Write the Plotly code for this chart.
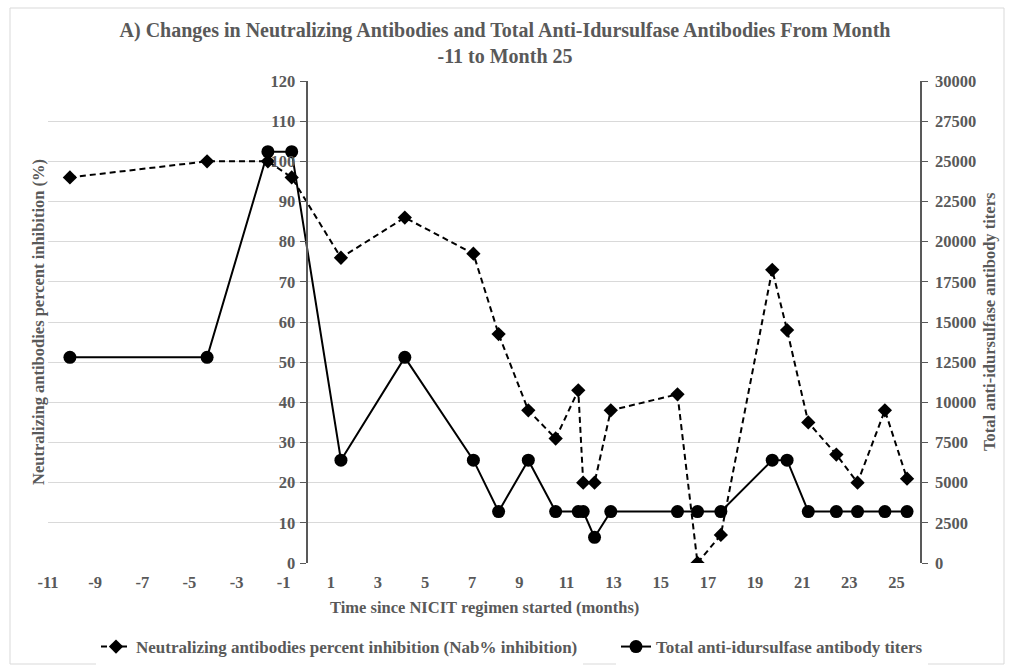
import plotly.graph_objects as go

months = [-10.07, -4.25, -1.67, -0.66, 1.43, 4.14, 7.05, 8.12, 9.38, 10.54, 11.5, 11.71,
          12.19, 12.88, 15.71, 16.56, 17.55, 19.73, 20.36, 21.26, 22.45, 23.35, 24.51, 25.45]
nab_pct = [96, 100, 100, 96, 76, 86, 77, 57, 38, 31, 43, 20,
           20, 38, 42, 0, 7, 73, 58, 35, 27, 20, 38, 21]
titers = [12800, 12800, 25600, 25600, 6400, 12800, 6400, 3200, 6400, 3200, 3200, 3200,
          1600, 3200, 3200, 3200, 3200, 6400, 6400, 3200, 3200, 3200, 3200, 3200]

x_ticks = list(range(-11, 26, 2))
x_ticktext = [str(v) for v in x_ticks]
left_ticks = list(range(0, 121, 10))
right_ticks = list(range(0, 30001, 2500))

title_text = ("A) Changes in Neutralizing Antibodies and Total Anti-Idursulfase Antibodies From Month"
              "<br>-11 to Month 25")
x_title = "Time since NICIT regimen started (months)"
y1_title = "Neutralizing antibodies percent inhibition (%)"
y2_title = "Total anti-idursulfase antibody titers"
name_nab = "Neutralizing antibodies percent inhibition (Nab% inhibition)"
name_tit = "Total anti-idursulfase antibody titers"

GRAY = "#595959"
FONT = "Liberation Serif, Times New Roman, serif"
X_MIN, X_MAX = -11, 26
W, H = 1010, 668
ML, MR, MT, MB = 48, 90, 81, 105
PW, PH = W - ML - MR, H - MT - MB

fig = go.Figure()
fig.add_trace(go.Scatter(
    x=months, y=nab_pct, name=name_nab, mode="lines+markers",
    line=dict(color="black", width=2, dash="6px,4px"),
    marker=dict(symbol="diamond", size=11, color="black"),
    yaxis="y", legend="legend"))
fig.add_trace(go.Scatter(
    x=months, y=titers, name=name_tit, mode="lines+markers",
    line=dict(color="black", width=2),
    marker=dict(symbol="circle", size=13, color="black"),
    yaxis="y2", legend="legend2"))

tickfont = dict(family=FONT, size=16.5, color=GRAY, weight="bold")
titlefont = dict(family=FONT, size=16.5, color=GRAY, weight="bold")
legfont = dict(family=FONT, size=17, color=GRAY, weight="bold")

fig.update_layout(
    width=W, height=H,
    margin=dict(l=ML, r=MR, t=MT, b=MB),
    paper_bgcolor="white", plot_bgcolor="white",
    font=dict(family=FONT, color=GRAY),
    title=dict(text=title_text, x=0.5, xref="container", xanchor="center",
               y=1 - 37 / H, yref="container", yanchor="middle",
               font=dict(family=FONT, size=20, color=GRAY, weight="bold")),
    xaxis=dict(range=[X_MIN, X_MAX], tickvals=x_ticks, ticktext=x_ticktext, showgrid=False,
               zeroline=False, showline=False, ticks="", tickfont=tickfont,
               ticklabelstandoff=7, domain=[0, 1], automargin=False),
    yaxis=dict(range=[0, 120], tickvals=left_ticks, showgrid=True, gridcolor="#d9d9d9",
               gridwidth=1, zeroline=False, showline=True, linecolor=GRAY, linewidth=1.5,
               ticks="outside", ticklen=6, tickcolor=GRAY, tickfont=tickfont,
               anchor="free", position=(0 - X_MIN) / (X_MAX - X_MIN), ticklabelstandoff=2,
               automargin=False),
    yaxis2=dict(range=[0, 30000], tickvals=right_ticks, tickformat="d", overlaying="y",
                side="right", showgrid=False, zeroline=False, showline=True, linecolor=GRAY,
                linewidth=1.5, ticks="outside", ticklen=6, tickcolor=GRAY, tickfont=tickfont,
                ticklabelstandoff=4, automargin=False),
    legend=dict(orientation="h", xref="container", x=96 / W, xanchor="left",
                yref="container", y=1 - 647 / H, yanchor="middle", font=legfont),
    legend2=dict(orientation="h", xref="container", x=616 / W, xanchor="left",
                 yref="container", y=1 - 647 / H, yanchor="middle", font=legfont),
    showlegend=True,
)

fig.add_annotation(text=x_title, xref="paper", yref="paper", x=(485 - ML) / PW,
                   y=(MT + PH - 607) / PH, showarrow=False, xanchor="center",
                   yanchor="middle", font=titlefont)
fig.add_annotation(text=y1_title, xref="paper", yref="paper", x=(38 - ML) / PW, y=0.5,
                   textangle=-90, showarrow=False, xanchor="center", yanchor="middle",
                   font=titlefont)
fig.add_annotation(text=y2_title, xref="paper", yref="paper", x=1 + (989 - (W - MR)) / PW,
                   y=0.5, textangle=-90, showarrow=False, xanchor="center",
                   yanchor="middle", font=titlefont)

fig.add_shape(type="rect", xref="paper", yref="paper",
              x0=(10 - ML) / PW, x1=(1004 - ML) / PW,
              y0=(MT + PH - 664) / PH, y1=(MT + PH - 8) / PH,
              line=dict(color="#d9d9d9", width=1), fillcolor="rgba(0,0,0,0)", layer="below")

fig.write_html("out.html", config={"displayModeBar": False},
               post_script="document.body.style.margin='0px';")
